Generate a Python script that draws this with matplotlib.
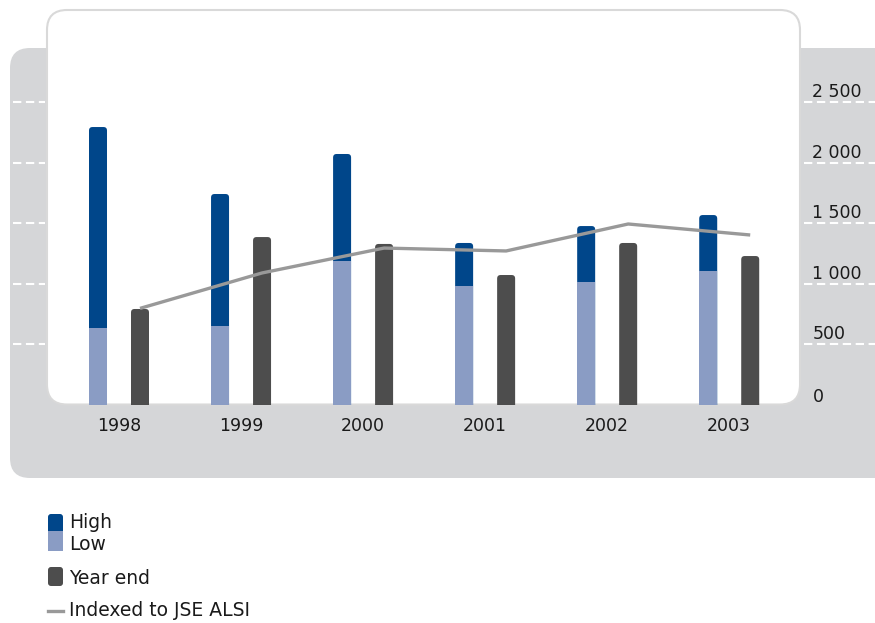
import numpy as np
import matplotlib.pyplot as plt
from matplotlib.patches import FancyBboxPatch
from matplotlib.transforms import blended_transform_factory, ScaledTranslation, Affine2D

plt.rcParams['font.family'] = ['DejaVu Sans']

# data
years = ['1998', '1999', '2000', '2001', '2002', '2003']
high = [2295, 1741, 2072, 1336, 1476, 1567]
low = [633, 649, 1183, 980, 1013, 1104]
year_end = [790, 1385, 1328, 1071, 1336, 1228]
indexed = [795, 1088, 1294, 1270, 1493, 1402]
yticks = [0, 500, 1000, 1500, 2000, 2500]
ytick_labels = ['0', '500', '1 000', '1 500', '2 000', '2 500']

c_high = '#00468a'
c_low = '#8a9cc4'
c_ye = '#4d4d4d'
c_line = '#999999'
c_panel = '#d5d6d8'
c_text = '#1a1a1a'

W, H = 875, 623
fig = plt.figure(figsize=(W / 100, H / 100), dpi=100)

# pixel transform (origin bottom-left)
pix = Affine2D().scale(1 / 100) + fig.dpi_scale_trans


def top(y):
    """convert a top-origin pixel y to bottom-origin"""
    return H - y


# background panels
gray = FancyBboxPatch((10, top(478)), 920, 430, boxstyle='round,pad=0,rounding_size=20',
                      transform=pix, facecolor=c_panel, edgecolor='none', zorder=-3)
white = FancyBboxPatch((47, top(404.5)), 753, 394.5, boxstyle='round,pad=0,rounding_size=20',
                       transform=pix, facecolor='white', edgecolor='#d9d9d9', lw=1.5, zorder=-2)
fig.add_artist(gray)
fig.add_artist(white)

# axes sits on the white panel
ax_l, ax_r, ax_b, ax_t = 47, 800, top(404.5), top(10)
ax = fig.add_axes([ax_l / W, ax_b / H, (ax_r - ax_l) / W, (ax_t - ax_b) / H])
ax.set_facecolor('none')
for s in ax.spines.values():
    s.set_visible(False)

x0, x1 = -0.59, 5.58
ymax = 3263
ax.set_xlim(x0, x1)
ax.set_ylim(0, ymax)

px_x = (ax_r - ax_l) / (x1 - x0)       # pixels per x unit
px_y = (ax_t - ax_b) / ymax             # pixels per y unit

x = np.arange(len(years))
bw = 18 / px_x
off = 21 / px_x
r = 3.5 / px_x
aspect = (3.5 / px_y) / r
ext = 40


def round_bar(xc, val, color):
    p = FancyBboxPatch((xc - bw / 2, -ext), bw, val + ext,
                       boxstyle=f'round,pad=0,rounding_size={r}', mutation_aspect=aspect,
                       facecolor=color, edgecolor='none', zorder=2)
    ax.add_patch(p)


for i in range(len(years)):
    round_bar(x[i] - off, high[i], c_high)
    round_bar(x[i] + off, year_end[i], c_ye)
ax.bar(x - off, low, width=bw, color=c_low, zorder=3)
ax.plot(x + off, indexed, color=c_line, lw=2.4, zorder=4, solid_capstyle='butt')

# dashed stubs in the gray margins
bt = blended_transform_factory(fig.transFigure, ax.transData)
for yv in yticks[1:]:
    ax.plot([13 / W, 45 / W], [yv, yv], transform=bt, clip_on=False, color='white',
            lw=1.5, ls=(0, (4, 2.2)), zorder=1)
    ax.plot([804 / W, 1.0], [yv, yv], transform=bt, clip_on=False, color='white',
            lw=1.5, ls=(0, (4, 2.2)), zorder=1)

# ticks
ax.set_xticks(x)
ax.set_xticklabels(years, fontsize=12.5, color=c_text)
ax.tick_params(axis='x', length=0, pad=9)
ax.yaxis.tick_right()
ax.set_yticks(yticks)
ax.set_yticklabels(ytick_labels, fontsize=12.5, color=c_text)
ax.tick_params(axis='y', length=0, pad=9)
for lab, yv in zip(ax.get_yticklabels(), yticks):
    dy = 9.5 if yv == 0 else 12
    lab.set_transform(lab.get_transform() + ScaledTranslation(0, dy / 100, fig.dpi_scale_trans))

# legend, drawn by hand
def swatch(x, y0, y1, color, rounded):
    style = 'round,pad=0,rounding_size=3' if rounded else 'square,pad=0'
    p = FancyBboxPatch((x, top(y1)), 15, y1 - y0, boxstyle=style, transform=pix,
                       facecolor=color, edgecolor='none')
    fig.add_artist(p)


swatch(48, 514, 536, c_high, True)
swatch(48, 531, 551, c_low, False)
swatch(48, 567, 586, c_ye, True)
fig.add_artist(plt.Line2D([48, 63], [top(611), top(611)], transform=pix, color=c_line, lw=2.4))

legend_items = [('High', 523), ('Low', 544), ('Year end', 578), ('Indexed to JSE ALSI', 611)]
for text, yc in legend_items:
    fig.text(69 / W, top(yc) / H, text, fontsize=13.5, color=c_text, va='center', ha='left')

fig.savefig('out.png', dpi=100)
